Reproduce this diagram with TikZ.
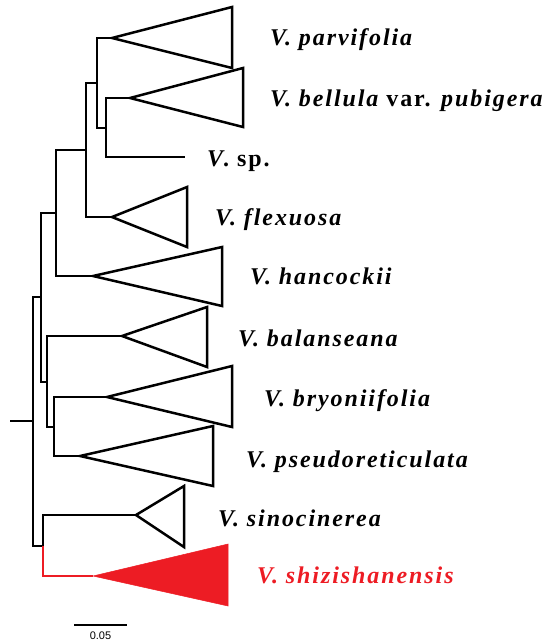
\documentclass[tikz,border=0pt]{standalone}
\usepackage{fontspec}
\setmainfont{Liberation Serif}
\newfontfamily\labfont[LetterSpace=8]{Liberation Serif}
\newfontfamily\barfont{Liberation Sans}
\definecolor{shred}{RGB}{237,28,36}
\tikzset{
  branch/.style={line width=2.5pt, line join=miter},
  clade/.style={draw=black, line width=2.5pt, line join=miter},
  redclade/.style={draw=shred, fill=shred, line width=0.5pt},
  taxon/.style={anchor=base west, inner sep=0pt, font=\labfont\fontsize{24}{28}\selectfont\bfseries\itshape},
}
\begin{document}
\begin{tikzpicture}[x=1pt,y=-1pt]
\useasboundingbox (0,0) rectangle (554,641);
% internal nodes
\coordinate (stem) at (10,421);
\coordinate (n0) at (33,421);
\coordinate (n1) at (41,297);
\coordinate (n2) at (56,213);
\coordinate (n3) at (86,150);
\coordinate (n4) at (97,83);
\coordinate (n5) at (106,128);
\coordinate (n6) at (47,382);
\coordinate (n7) at (54,427);
\coordinate (n9) at (43,546);
% clade apices
\coordinate (parv) at (112,38);
\coordinate (bell) at (130,98);
\coordinate (sptip) at (185,157);
\coordinate (flex) at (112,217);
\coordinate (hanc) at (93,276);
\coordinate (bala) at (122,336);
\coordinate (bryo) at (107,397);
\coordinate (pseu) at (80,456);
\coordinate (sino) at (136,515);
\coordinate (shiz) at (93,576);
% branches
\draw[branch] (stem) -- (n0);
\draw[branch] (n0) |- (n1);
\draw[branch] (n0) |- (n9);
\draw[branch] (n1) |- (n2);
\draw[branch] (n1) |- (n6);
\draw[branch] (n2) |- (n3);
\draw[branch] (n2) |- (hanc);
\draw[branch] (n3) |- (n4);
\draw[branch] (n3) |- (flex);
\draw[branch] (n4) |- (parv);
\draw[branch] (n4) |- (n5);
\draw[branch] (n5) |- (bell);
\draw[branch] (n5) |- (sptip);
\draw[branch] (n6) |- (bala);
\draw[branch] (n6) |- (n7);
\draw[branch] (n7) |- (bryo);
\draw[branch] (n7) |- (pseu);
\draw[branch] (n9) |- (sino);
\draw[branch, shred] (n9) |- (shiz);
% collapsed clades
\draw[clade] (parv) -- (232,7) -- (232,68) -- cycle;
\draw[clade] (bell) -- (243,68) -- (243,127) -- cycle;
\draw[clade] (flex) -- (187,187) -- (187,247) -- cycle;
\draw[clade] (hanc) -- (222,247) -- (222,306) -- cycle;
\draw[clade] (bala) -- (207,307) -- (207,367) -- cycle;
\draw[clade] (bryo) -- (232,366) -- (232,427) -- cycle;
\draw[clade] (pseu) -- (213,426) -- (213,486) -- cycle;
\draw[clade] (sino) -- (184,486) -- (184,547) -- cycle;
\path[redclade] (shiz) -- (228,544) -- (228,606) -- cycle;
% labels
\node[taxon] (Lparv) at (270,45) {V. parvifolia};
\node[taxon] (Lbell) at (270,106) {V. bellula {\upshape var.} pubigera};
\node[taxon] (Lsp) at (207,166) {V{\upshape . sp.}};
\node[taxon] (Lflex) at (215,225) {V. flexuosa};
\node[taxon] (Lhanc) at (250,284) {V. hancockii};
\node[taxon] (Lbala) at (238,346) {V. balanseana};
\node[taxon] (Lbryo) at (264,406) {V. bryoniifolia};
\node[taxon] (Lpseu) at (246,467) {V. pseudoreticulata};
\node[taxon] (Lsino) at (218,526) {V. sinocinerea};
\node[taxon, text=shred] (Lshiz) at (257,583) {V. shizishanensis};
% scale bar
\coordinate (sb1) at (74,625);
\coordinate (sb2) at (127,625);
\draw[line width=2pt] (sb1) -- (sb2);
\node[font=\barfont\fontsize{11}{12}\selectfont, inner sep=0pt] (sbl) at (100.5,635.5) {0.05};
\end{tikzpicture}
\end{document}
